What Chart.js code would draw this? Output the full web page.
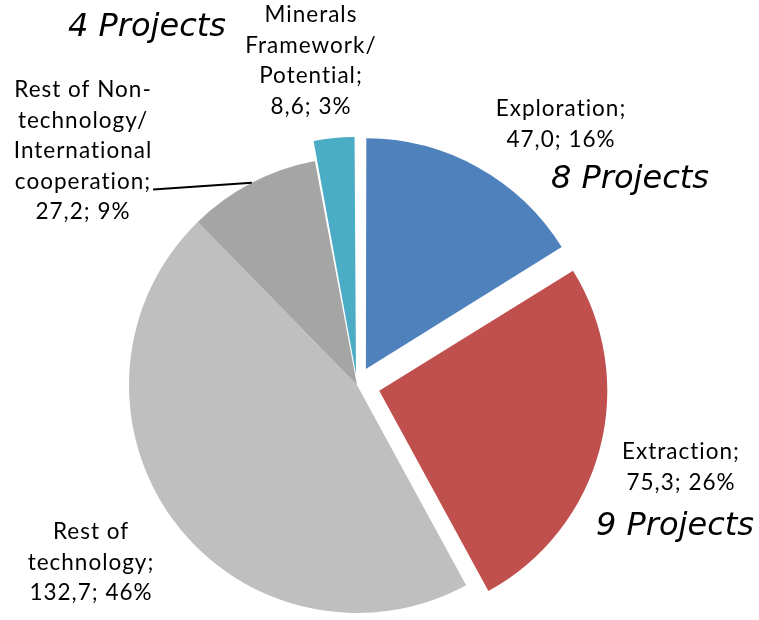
<!DOCTYPE html>
<html lang="en">
<head>
<meta charset="UTF-8">
<title>Projects pie</title>
<script src="https://cdn.jsdelivr.net/npm/chart.js@4.4.1/dist/chart.umd.min.js"></script>
<style>
  html, body { margin: 0; padding: 0; background: #fff; overflow: hidden; }
  #wrap { width: 759px; height: 620px; position: relative; }
</style>
</head>
<body>
<div id="wrap"><canvas id="pie"></canvas></div>
<script>
// data
const categories = ['Exploration', 'Extraction', 'Rest of technology', 'Rest of Non-technology/International cooperation', 'Minerals Framework/Potential'];
const values = [47.0, 75.3, 132.7, 27.2, 8.6];
const colors = ['#4f81bd', '#c0504d', '#bfbfbf', '#a5a5a5', '#4bacc6'];
const explode = [73, 92, 0, 0, 44];
const labelLines = [
    ['Exploration;'],
    ['Extraction;'],
    ['Rest of', 'technology;'],
    ['Rest of Non-', 'technology/', 'International', 'cooperation;'],
    ['Minerals', 'Framework/', 'Potential;']
];
const labelPos = [[561, 109], [681, 452], [91, 532], [83, 90], [311, 15]];
const projectNotes = ['8 Projects', '9 Projects', '4 Projects'];
const notePos = [[630, 180], [675, 527], [147, 28]];

const total = values.reduce((a, b) => a + b, 0);
const LABEL_FONT = '22.5px Lato, "Open Sans", sans-serif';
const LINE_H = 30.5;

function valueLine(i) {
    const v = values[i].toFixed(1).replace('.', ',');
    const p = Math.round(values[i] / total * 100);
    return v + '; ' + p + '%';
}

const labelsPlugin = {
    id: 'sliceLabels',
    afterDraw(chart) {
        const ctx = chart.ctx;
        const arcs = chart.getDatasetMeta(0).data;
        ctx.save();
        ctx.fillStyle = '#000';
        ctx.textAlign = 'center';
        ctx.textBaseline = 'middle';
        ctx.font = LABEL_FONT;
        ctx.letterSpacing = '1px';
        labelLines.forEach((lines, i) => {
            const all = lines.concat([valueLine(i)]);
            const [x, y] = labelPos[i];
            all.forEach((t, k) => ctx.fillText(t, x, y + k * LINE_H));
            if (i === 3) {
                // leader line from "cooperation;" to the slice edge
                const k = 3;
                const w = ctx.measureText(all[k]).width;
                const a = arcs[i];
                const mid = (a.startAngle + a.endAngle) / 2;
                const ex = a.x + Math.cos(mid) * a.outerRadius;
                const ey = a.y + Math.sin(mid) * a.outerRadius;
                ctx.beginPath();
                ctx.moveTo(x + w / 2 + 2, y + k * LINE_H + 8);
                ctx.lineTo(ex, ey);
                ctx.lineWidth = 2;
                ctx.strokeStyle = '#000';
                ctx.stroke();
            }
        });
        ctx.letterSpacing = '0px';
        ctx.font = 'oblique 32px "DejaVu Sans", Verdana, sans-serif';
        projectNotes.forEach((t, i) => ctx.fillText(t, notePos[i][0], notePos[i][1]));
        ctx.restore();
    }
};

new Chart(document.getElementById('pie'), {
    type: 'pie',
    data: {
        labels: categories,
        datasets: [{
            data: values,
            backgroundColor: colors,
            borderWidth: 0,
            offset: explode,
            hoverOffset: 0,
            radius: 228,
            clip: false
        }]
    },
    options: {
        responsive: true,
        maintainAspectRatio: false,
        animation: false,
        layout: { padding: { left: 0, right: 45, top: 150, bottom: 0 } },
        plugins: {
            legend: { display: false },
            tooltip: { enabled: false }
        }
    },
    plugins: [labelsPlugin]
});
</script>
</body>
</html>
